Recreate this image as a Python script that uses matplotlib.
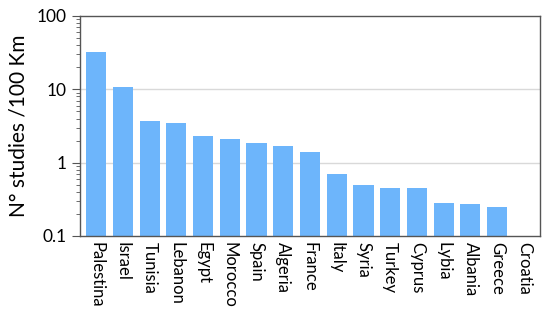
import matplotlib.pyplot as plt
import numpy as np

countries = ["Palestina", "Israel", "Tunisia", "Lebanon", "Egypt", "Morocco",
             "Spain", "Algeria", "France", "Italy", "Syria", "Turkey",
             "Cyprus", "Lybia", "Albania", "Greece", "Croatia"]
studies = [32, 10.8, 3.7, 3.5, 2.33, 2.1, 1.83, 1.70, 1.40, 0.69, 0.50,
           0.457, 0.455, 0.28, 0.27, 0.25, 0]

plt.rcParams['font.family'] = ['Lato', 'DejaVu Sans']

fig = plt.figure(figsize=(5.5, 3.19), dpi=100)
ax = fig.add_axes([80 / 550, 1 - 236 / 319, 460 / 550, 220 / 319])

x = np.arange(len(countries))
ax.bar(x, studies, width=0.75, color="#6db5fb", zorder=2)

ax.set_yscale("log")
ax.set_ylim(0.1, 100)
ax.set_xlim(-0.6, len(countries) - 0.4)
ax.set_yticks([0.1, 1, 10, 100])
ax.set_yticklabels(["0.1", "1", "10", "100"])
ax.set_xticks(x)
ax.set_xticklabels(countries, rotation=-90, fontsize=12)
ax.tick_params(axis="x", length=0, pad=4)
ax.tick_params(axis="y", which="major", length=6, width=0.8, labelsize=12.5, color="#555555")
ax.tick_params(axis="y", which="minor", length=3, width=0.6, color="#555555")

for v in [1, 10]:
    ax.axhline(v, color="#d9d9d9", lw=1, zorder=1)

for s in ax.spines.values():
    s.set_color("#555555")
    s.set_linewidth(1)

ax.set_ylabel("N° studies /100 Km", fontsize=15, labelpad=6)

fig.savefig("out.png", dpi=100)
